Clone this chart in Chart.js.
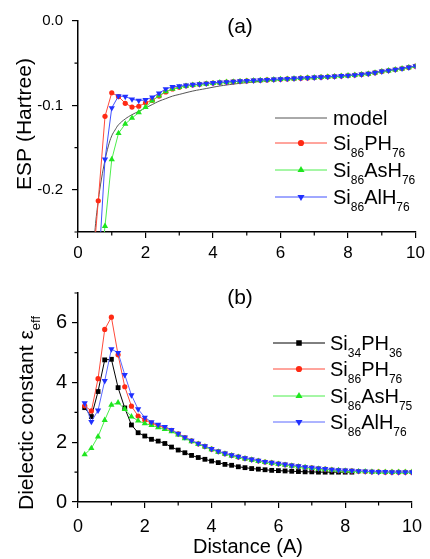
<!DOCTYPE html>
<html>
<head>
<meta charset="utf-8">
<script src="https://cdn.jsdelivr.net/npm/chart.js@4.4.1/dist/chart.umd.min.js"></script>
<style>
  body { margin: 0; background: #fff; }
  #wrap { position: relative; width: 430px; height: 559px; }
  canvas { position: absolute; left: 0; }
</style>
</head>
<body>
<div id="wrap">
  <canvas id="panelA" width="430" height="270" style="top:0"></canvas>
  <canvas id="panelB" width="430" height="289" style="top:270px"></canvas>
</div>
<script>
// (a) ESP vs distance
const distA = [0.4, 0.6, 0.8, 1.0, 1.2, 1.4, 1.6, 1.8, 2.0, 2.2, 2.4, 2.6, 2.8, 3.0, 3.2, 3.4, 3.6, 3.8, 4.0,
  4.2, 4.4, 4.6, 4.8, 5.0, 5.2, 5.4, 5.6, 5.8, 6.0, 6.2, 6.4, 6.6, 6.8, 7.0, 7.2, 7.4, 7.6, 7.8, 8.0,
  8.2, 8.4, 8.6, 8.8, 9.0, 9.2, 9.4, 9.6, 9.8, 10.0];
const espPH = [-0.31, -0.213, -0.113, -0.085, -0.0895, -0.0975, -0.102, -0.101, -0.097,
  -0.094, -0.089, -0.084, -0.0805, -0.0785, -0.0768, -0.0758, -0.0750, -0.0742, -0.0735,
  -0.0729, -0.0724, -0.0719, -0.0714, -0.0710, -0.0706, -0.0702, -0.0698, -0.0694, -0.0690,
  -0.0686, -0.0682, -0.0678, -0.0674, -0.0670, -0.0666, -0.0662, -0.0657, -0.0652, -0.0646,
  -0.0640, -0.0633, -0.0625, -0.0612, -0.0598, -0.0587, -0.0575, -0.0563, -0.0550, -0.0535];
const espAsH = [null, -0.32, -0.243, -0.164, -0.133, -0.122, -0.115, -0.1085, -0.102,
  -0.0945, -0.0885, -0.0835, -0.0805, -0.0785, -0.0770, -0.0760, -0.0752, -0.0745, -0.0738,
  -0.0731, -0.0725, -0.0720, -0.0715, -0.0711, -0.0707, -0.0703, -0.0699, -0.0695, -0.0691,
  -0.0687, -0.0683, -0.0679, -0.0675, -0.0671, -0.0667, -0.0663, -0.0658, -0.0653, -0.0647,
  -0.0641, -0.0634, -0.0626, -0.0613, -0.0599, -0.0588, -0.0576, -0.0564, -0.0551, -0.0536];
const espAlH = [null, -0.30, -0.164, -0.103, -0.0888, -0.0895, -0.0927, -0.0943, -0.0935,
  -0.0903, -0.0856, -0.0805, -0.0780, -0.0772, -0.0762, -0.0754, -0.0747, -0.0740, -0.0733,
  -0.0727, -0.0722, -0.0717, -0.0712, -0.0708, -0.0704, -0.0700, -0.0696, -0.0692, -0.0688,
  -0.0684, -0.0680, -0.0676, -0.0672, -0.0668, -0.0664, -0.0660, -0.0655, -0.0650, -0.0645,
  -0.0639, -0.0632, -0.0624, -0.0611, -0.0597, -0.0586, -0.0574, -0.0562, -0.0549, -0.0534];
const modelDist = [0.4, 0.5, 0.6, 0.7, 0.8, 0.9, 1.0, 1.1, 1.2, 1.4, 1.6, 1.8, 2.0, 2.2, 2.4, 2.6, 2.8,
  3.0, 3.4, 3.8, 4.2, 4.6, 5.0, 6.0, 7.0, 8.0, 9.0, 10.0];
const modelESP = [-0.32, -0.25, -0.213, -0.186, -0.165, -0.148, -0.136, -0.129, -0.123, -0.116, -0.111,
  -0.107, -0.103, -0.099, -0.095, -0.092, -0.089, -0.087, -0.083, -0.080, -0.077, -0.0748, -0.073,
  -0.0695, -0.0672, -0.0648, -0.0600, -0.0537];

// (b) effective dielectric constant vs distance
const distB = [0.2, 0.4, 0.6, 0.8, 1.0, 1.2, 1.4, 1.6, 1.8, 2.0, 2.2, 2.4, 2.6, 2.8, 3.0, 3.2, 3.4, 3.6, 3.8, 4.0,
  4.2, 4.4, 4.6, 4.8, 5.0, 5.2, 5.4, 5.6, 5.8, 6.0, 6.2, 6.4, 6.6, 6.8, 7.0, 7.2, 7.4, 7.6, 7.8, 8.0,
  8.2, 8.4, 8.6, 8.8, 9.0, 9.2, 9.4, 9.6, 9.8, 10.0];
const epsSi34PH = [3.16, 2.86, 3.70, 4.76, 4.78, 3.83, 3.15, 2.58, 2.32, 2.21, 2.10, 2.04, 1.96, 1.84, 1.74,
  1.65, 1.56, 1.49, 1.43, 1.37, 1.32, 1.26, 1.23, 1.18, 1.15, 1.12, 1.10, 1.08, 1.06, 1.05,
  1.04, 1.03, 1.02, 1.01, 1.01, 1.00, 1.00, 1.00, 1.00, 1.00, 1.00];
const epsPH = [3.22, 3.05, 4.13, 5.78, 6.19, 4.93, 3.86, 3.21, 2.88, 2.75, 2.64, 2.56, 2.49, 2.40, 2.28,
  2.16, 2.05, 1.95, 1.86, 1.77, 1.69, 1.62, 1.56, 1.51, 1.46, 1.42, 1.38, 1.34, 1.31, 1.28,
  1.25, 1.22, 1.19, 1.16, 1.14, 1.12, 1.10, 1.08, 1.06, 1.05, 1.04, 1.03, 1.02, 1.01, 1.01,
  1.00, 1.00, 1.00, 1.00, 1.00];
const epsAsH = [1.59, 1.80, 2.19, 2.74, 3.25, 3.33, 3.11, 2.86, 2.72, 2.63, 2.57, 2.50, 2.44, 2.36, 2.25,
  2.13, 2.03, 1.94, 1.85, 1.76, 1.68, 1.61, 1.55, 1.50, 1.45, 1.41, 1.37, 1.33, 1.30, 1.27,
  1.24, 1.21, 1.18, 1.16, 1.13, 1.11, 1.09, 1.07, 1.06, 1.04, 1.03, 1.02, 1.02, 1.01, 1.00,
  1.00, 1.00, 1.00, 1.00, 1.00];
const epsAlH = [3.31, 2.69, 3.07, 4.06, 5.12, 5.00, 4.26, 3.58, 3.11, 2.83, 2.68, 2.59, 2.52, 2.42, 2.29,
  2.17, 2.06, 1.96, 1.87, 1.78, 1.70, 1.63, 1.57, 1.52, 1.47, 1.43, 1.39, 1.35, 1.32, 1.29,
  1.26, 1.23, 1.20, 1.17, 1.15, 1.13, 1.11, 1.09, 1.07, 1.06, 1.05, 1.04, 1.03, 1.02, 1.01,
  1.01, 1.00, 1.00, 1.00, 1.00];

const FONT = "'Liberation Sans', Arial, Helvetica, sans-serif";
const RED = '#ff2a14', GREEN = '#1ee61e', BLUE = '#2030ff';

function pts(xs, ys) {
  return xs.map((x, i) => ({ x, y: ys[i] })).filter(p => p.y != null);
}

function series(label, xs, ys, color, line, style, rot, r, order) {
  return {
    label, data: pts(xs, ys), order,
    borderColor: line, backgroundColor: color, borderWidth: 1, tension: 0,
    pointStyle: style, pointRotation: rot, pointRadius: r, pointBorderWidth: 0,
    pointBackgroundColor: color, pointBorderColor: color
  };
}

// 'Si_{86}PH_{76}' -> text pieces with subscripts
function parse(str) {
  const out = [], re = /_\{([^}]*)\}/g;
  let last = 0, m;
  while ((m = re.exec(str))) {
    if (m.index > last) out.push({ t: str.slice(last, m.index) });
    out.push({ t: m[1], sub: true });
    last = re.lastIndex;
  }
  if (last < str.length) out.push({ t: str.slice(last) });
  return out;
}

function drawRich(ctx, str, x, y, size, align) {
  const ps = parse(str), sub = Math.round(size * 0.6);
  let w = 0;
  ps.forEach(q => { ctx.font = `${q.sub ? sub : size}px ${FONT}`; q.w = ctx.measureText(q.t).width; w += q.w; });
  let cx = align === 'center' ? x - w / 2 : x;
  ctx.textAlign = 'left';
  ctx.textBaseline = 'alphabetic';
  ps.forEach(q => {
    ctx.font = `${q.sub ? sub : size}px ${FONT}`;
    ctx.fillText(q.t, cx, q.sub ? y + size * 0.35 : y);
    cx += q.w;
  });
}

function makePanel(id, p) {
  const canvas = document.getElementById(id);
  const H = canvas.height;
  const tickCol = major => c => (c.tick && !major(c.tick.value)) ? 'rgba(0,0,0,0)' : '#000';

  const decor = {
    id: 'decor',
    afterDraw(chart) {
      const ctx = chart.ctx, a = chart.chartArea, sx = chart.scales.x, sy = chart.scales.y;
      ctx.save();
      // short minor ticks
      ctx.strokeStyle = '#000';
      ctx.lineWidth = 1.2;
      ctx.beginPath();
      sx.ticks.forEach(t => {
        if (p.majorX(t.value)) return;
        const px = sx.getPixelForValue(t.value);
        ctx.moveTo(px, a.bottom); ctx.lineTo(px, a.bottom + 3.5);
      });
      sy.ticks.forEach(t => {
        if (p.majorY(t.value)) return;
        const py = sy.getPixelForValue(t.value);
        ctx.moveTo(a.left - 3.5, py); ctx.lineTo(a.left, py);
      });
      ctx.stroke();

      ctx.fillStyle = '#000';
      drawRich(ctx, p.panel, p.panelAt[0], p.panelAt[1], 21, 'center');
      ctx.save();
      ctx.translate(p.yTitleAt[0], p.yTitleAt[1]);
      ctx.rotate(-Math.PI / 2);
      drawRich(ctx, p.yTitle, 0, 0, 21, 'center');
      ctx.restore();
      if (p.xTitle) drawRich(ctx, p.xTitle, p.xTitleAt[0], p.xTitleAt[1], 20, 'center');

      // legend with subscripts
      const L = p.legend;
      L.items.forEach((di, i) => {
        const ds = chart.data.datasets[di], ry = L.rows[i];
        ctx.strokeStyle = ds.borderColor;
        ctx.lineWidth = 1;
        ctx.beginPath(); ctx.moveTo(L.x0, ry); ctx.lineTo(L.x1, ry); ctx.stroke();
        if (ds.pointRadius > 0) {
          ctx.fillStyle = ds.pointBackgroundColor;
          ctx.strokeStyle = ds.pointBackgroundColor;
          Chart.helpers.drawPoint(ctx, { pointStyle: ds.pointStyle, rotation: ds.pointRotation, radius: ds.pointRadius + 0.5, borderWidth: 0 }, (L.x0 + L.x1) / 2, ry);
        }
        ctx.fillStyle = '#000';
        drawRich(ctx, ds.label, L.tx, ry + 7, 20, 'left');
      });
      ctx.restore();
    }
  };

  return new Chart(canvas, {
    type: 'line',
    data: { datasets: p.datasets },
    options: {
      responsive: false,
      animation: false,
      devicePixelRatio: 1,
      layout: { padding: { top: p.padTop, right: 13, left: 0, bottom: 0 } },
      plugins: { legend: { display: false }, tooltip: { enabled: false } },
      scales: {
        x: {
          type: 'linear', min: 0, max: 10,
          afterFit: s => { s.height = H - 232; },
          border: { color: '#000', width: 1.5 },
          grid: { drawOnChartArea: false, tickLength: 6, lineWidth: 1.2, tickColor: tickCol(p.majorX) },
          ticks: {
            stepSize: 1, autoSkip: false, maxRotation: 0, padding: p.xPad, color: '#000',
            font: { family: FONT, size: p.xFont },
            callback: v => p.majorX(v) ? String(v) : ''
          }
        },
        y: {
          type: 'linear', min: p.yMin, max: p.yMax,
          afterFit: s => { s.width = 78; },
          border: { color: '#000', width: 1.5 },
          grid: { drawOnChartArea: false, tickLength: 6, lineWidth: 1.2, tickColor: tickCol(p.majorY) },
          ticks: {
            stepSize: p.yStep, autoSkip: false, padding: p.yPad, color: '#000',
            font: { family: FONT, size: p.yFont },
            callback: v => p.majorY(v) ? p.yFmt(v) : ''
          }
        }
      }
    },
    plugins: [decor]
  });
}

const evenX = v => Math.round(v) % 2 === 0;

makePanel('panelA', {
  datasets: [
    { label: 'model', data: pts(modelDist, modelESP), order: 3, borderColor: '#555', borderWidth: 1,
      tension: 0.4, pointRadius: 0 },
    series('Si_{86}PH_{76}', distA, espPH, RED, '#ff4a3a', 'circle', 0, 2.6, 2),
    series('Si_{86}AsH_{76}', distA, espAsH, GREEN, '#4cee4c', 'triangle', 0, 3.6, 1),
    series('Si_{86}AlH_{76}', distA, espAlH, BLUE, '#4050ff', 'triangle', 180, 3.6, 0)
  ],
  padTop: 21, yMin: -0.25, yMax: 0, yStep: 0.05,
  majorY: v => Math.round(v * 20) % 2 === 0, yFmt: v => v.toFixed(1),
  yFont: 15, yPad: 9, xFont: 17, xPad: 5, majorX: evenX,
  panel: '(a)', panelAt: [240, 33],
  yTitle: 'ESP (Hartree)', yTitleAt: [31, 124],
  legend: { x0: 275, x1: 327, tx: 333, rows: [118, 143, 170, 197], items: [0, 1, 2, 3] }
});

makePanel('panelB', {
  datasets: [
    series('Si_{34}PH_{36}', distB, epsSi34PH, '#000', '#000', 'rect', 0, 3.4, 3),
    series('Si_{86}PH_{76}', distB, epsPH, RED, '#ff4a3a', 'circle', 0, 2.6, 2),
    series('Si_{86}AsH_{75}', distB, epsAsH, GREEN, '#4cee4c', 'triangle', 0, 3.6, 1),
    series('Si_{86}AlH_{76}', distB, epsAlH, BLUE, '#5a68ff', 'triangle', 180, 3.6, 0)
  ],
  padTop: 23, yMin: 0, yMax: 7, yStep: 1,
  majorY: v => Math.round(v) % 2 === 0, yFmt: v => String(v),
  yFont: 20, yPad: 5, xFont: 18, xPad: 8, majorX: evenX,
  panel: '(b)', panelAt: [240, 34],
  yTitle: 'Dielectic constant ε_{eff}', yTitleAt: [33, 143],
  xTitle: 'Distance (A)', xTitleAt: [248, 283],
  legend: { x0: 273, x1: 325, tx: 330, rows: [73, 99, 126, 152], items: [0, 1, 2, 3] }
});
</script>
</body>
</html>
